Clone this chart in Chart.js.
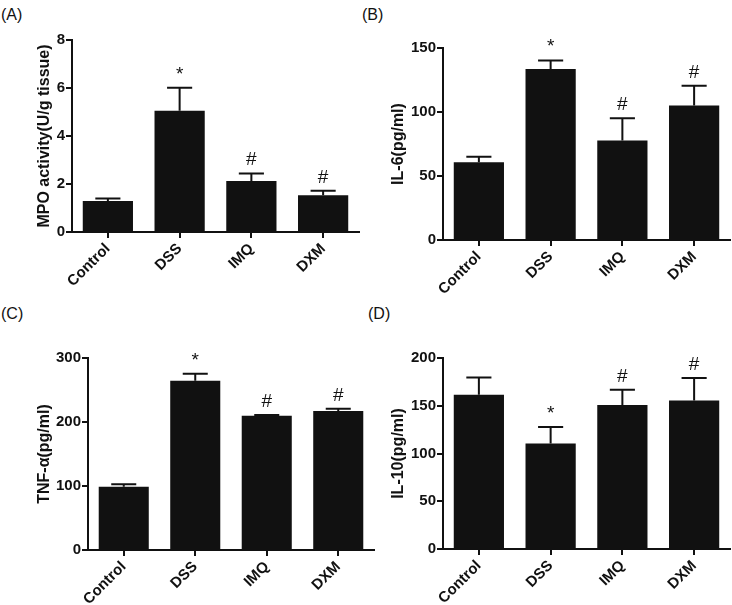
<!DOCTYPE html>
<html>
<head>
<meta charset="utf-8">
<script src="https://cdn.jsdelivr.net/npm/chart.js@4.4.0/dist/chart.umd.min.js"></script>
<style>
  html, body { margin: 0; padding: 0; background: #fff; }
  #wrap { position: relative; width: 732px; height: 605px; overflow: hidden; font-family: "Liberation Sans", Arial, sans-serif; }
  #wrap canvas { position: absolute; }
  .tag { position: absolute; font-size: 16px; color: #111; }
</style>
</head>
<body>
<div id="wrap">
  <div class="tag" style="left:1px;top:6px">(A)</div>
  <div class="tag" style="left:362px;top:6px">(B)</div>
  <div class="tag" style="left:1px;top:305px">(C)</div>
  <div class="tag" style="left:368px;top:305px">(D)</div>
  <canvas id="cA" width="366" height="300" style="left:0;top:0"></canvas>
  <canvas id="cB" width="366" height="300" style="left:366px;top:0"></canvas>
  <canvas id="cC" width="380" height="305" style="left:0;top:300px"></canvas>
  <canvas id="cD" width="366" height="305" style="left:366px;top:300px"></canvas>
</div>
<script>
// ---- data ----
const groups = ['Control', 'DSS', 'IMQ', 'DXM'];

const mpoMean = [1.29, 5.05, 2.12, 1.53];
const mpoErr  = [0.11, 0.96, 0.32, 0.19];
const mpoSig  = ['', '*', '#', '#'];
const mpoTicks = [0, 2, 4, 6, 8];

const il6Mean = [60.8, 133.5, 77.7, 105.1];
const il6Err  = [4.2, 6.8, 17.5, 15.4];
const il6Sig  = ['', '*', '#', '#'];
const il6Ticks = [0, 50, 100, 150];

const tnfMean = [99, 264.5, 209.7, 217];
const tnfErr  = [3.8, 10.9, 1.3, 3.7];
const tnfSig  = ['', '*', '#', '#'];
const tnfTicks = [0, 100, 200, 300];

const il10Mean = [161.4, 110.5, 150.9, 155.4];
const il10Err  = [18.2, 17.2, 15.8, 23.6];
const il10Sig  = ['', '*', '#', '#'];
const il10Ticks = [0, 50, 100, 150, 200];

const INK = '#111';
const FONT = '"Liberation Sans", Arial, sans-serif';

// error bars (upper only) + significance marks
function errPlugin(mean, err, sig){
  return {
    id: 'errs',
    afterDatasetsDraw(chart){
      const ctx = chart.ctx, y = chart.scales.y;
      const meta = chart.getDatasetMeta(0);
      ctx.save();
      ctx.strokeStyle = INK; ctx.fillStyle = INK; ctx.lineWidth = 2;
      meta.data.forEach((bar, i) => {
        const top = y.getPixelForValue(mean[i] + err[i]);
        const base = y.getPixelForValue(mean[i]);
        const half = bar.width / 4;
        ctx.beginPath();
        ctx.moveTo(bar.x, base); ctx.lineTo(bar.x, top);
        ctx.moveTo(bar.x - half, top); ctx.lineTo(bar.x + half, top);
        ctx.stroke();
        if (sig[i]){
          ctx.font = '19px ' + FONT;
          ctx.textAlign = 'center'; ctx.textBaseline = 'alphabetic';
          ctx.fillText(sig[i], bar.x, top - 8);
        }
      });
      ctx.restore();
    }
  };
}

function makePanel(id, mean, err, sig, ticks, title, box){
  new Chart(document.getElementById(id), {
    type: 'bar',
    data: {
      labels: groups,
      datasets: [{ data: mean, backgroundColor: INK, borderWidth: 0,
                   categoryPercentage: 1, barPercentage: 0.7 }]
    },
    options: {
      responsive: false, animation: false,
      layout: { padding: { left: 0, right: box.w - box.right, top: box.top, bottom: 0 } },
      plugins: { legend: { display: false }, tooltip: { enabled: false } },
      scales: {
        x: {
          offset: true,
          grid: { drawOnChartArea: false, drawTicks: true, tickLength: 6, color: INK, lineWidth: 2, offset: false },
          border: { display: true, color: INK, width: 2 },
          ticks: { color: INK, font: { family: FONT, size: 15, weight: 'bold' },
                   minRotation: 45, maxRotation: 45, autoSkip: false, padding: 2 },
          afterFit: s => { s.height = box.h - box.bottom; }
        },
        y: {
          min: 0, max: ticks[ticks.length - 1],
          afterBuildTicks: s => { s.ticks = ticks.map(v => ({ value: v })); },
          grid: { drawOnChartArea: false, drawTicks: true, tickLength: 6, color: INK, lineWidth: 2 },
          border: { display: true, color: INK, width: 2 },
          ticks: { color: INK, font: { family: FONT, size: 15, weight: 'bold' }, padding: 1 },
          title: { display: true, text: title, color: INK,
                   font: { family: FONT, size: 16, weight: 'bold' },
                   padding: { top: box.tpad, bottom: 0 } },
          afterFit: s => { s.width = box.left; }
        }
      }
    },
    plugins: [errPlugin(mean, err, sig)]
  });
}

makePanel('cA', mpoMean, mpoErr, mpoSig, mpoTicks, 'MPO activity(U/g tissue)',
  { w: 366, h: 300, left: 72, right: 359, top: 40, bottom: 232, tpad: 35 });
makePanel('cB', il6Mean, il6Err, il6Sig, il6Ticks, 'IL-6(pg/ml)',
  { w: 366, h: 300, left: 77, right: 364, top: 48, bottom: 240, tpad: 23 });
makePanel('cC', tnfMean, tnfErr, tnfSig, tnfTicks, 'TNF-\u03b1(pg/ml)',
  { w: 380, h: 305, left: 88, right: 374, top: 58, bottom: 250, tpad: 35 });
makePanel('cD', il10Mean, il10Err, il10Sig, il10Ticks, 'IL-10(pg/ml)',
  { w: 366, h: 305, left: 77, right: 364, top: 58, bottom: 249, tpad: 23 });
</script>
</body>
</html>
